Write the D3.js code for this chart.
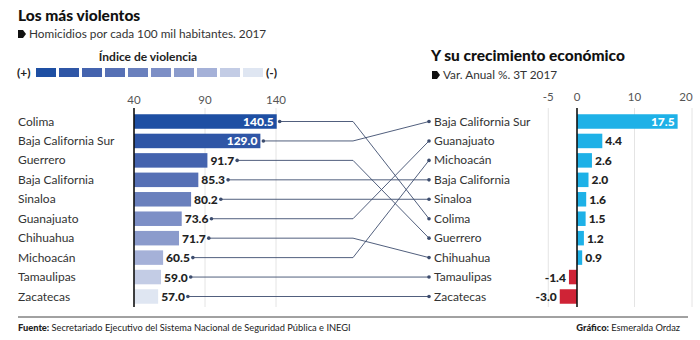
<!DOCTYPE html>
<html>
<head>
<meta charset="utf-8">
<script src="https://cdn.jsdelivr.net/npm/d3@7"></script>
<style>
  body { margin: 0; background: #fff; }
  svg { font-family: Lato, "Open Sans", sans-serif; }
</style>
</head>
<body>
<div id="chart"></div>
<script>
// índice de violencia (homicidios por cada 100 mil hab.)
const violentStates = ["Colima", "Baja California Sur", "Guerrero", "Baja California", "Sinaloa",
  "Guanajuato", "Chihuahua", "Michoacán", "Tamaulipas", "Zacatecas"];
const homicideRate = [140.5, 129.0, 91.7, 85.3, 80.2, 73.6, 71.7, 60.5, 59.0, 57.0];
const rateTicks = [40, 90, 140];

// crecimiento económico, var. anual % 3T 2017
const growthStates = ["Baja California Sur", "Guanajuato", "Michoacán", "Baja California", "Sinaloa",
  "Colima", "Guerrero", "Chihuahua", "Tamaulipas", "Zacatecas"];
const growthValues = [17.5, 4.4, 2.6, 2.0, 1.6, 1.5, 1.2, 0.9, -1.4, -3.0];
const growthTicks = [-5, 0, 10, 20];

const legendColors = ["#1e4fa3", "#2f56a6", "#4463ae", "#5670b5", "#6a80bd",
  "#7d8fc6", "#8b9bcc", "#a5b1d8", "#c3cce5", "#dfe6f2"];

const W = 700, H = 340;
const svg = d3.select("#chart").append("svg")
  .attr("width", W).attr("height", H);

const ink = "#222";
const lineColor = "#3d4d6e";

// encabezados
svg.append("text").attr("x", 18).attr("y", 21)
  .attr("font-size", 15.5).attr("font-weight", 900).attr("fill", "#111")
  .text("Los más violentos");

function tagIcon(x, y) {
  svg.append("path")
    .attr("d", `M${x},${y - 4} h5 l3,4 l-3,4 h-5 z`)
    .attr("fill", "#111");
}
tagIcon(18, 34);
svg.append("text").attr("x", 29).attr("y", 38)
  .attr("font-size", 11.8).attr("fill", "#333")
  .text("Homicidios por cada 100 mil habitantes. 2017");

svg.append("text").attr("x", 148).attr("y", 61)
  .attr("text-anchor", "middle").attr("font-size", 12).attr("font-weight", 700).attr("fill", "#222")
  .text("Índice de violencia");

// leyenda de colores
svg.append("text").attr("x", 17).attr("y", 77)
  .attr("font-size", 12).attr("font-weight", 700).attr("fill", "#222").text("(+)");
svg.selectAll(".swatch").data(legendColors).enter().append("rect")
  .attr("class", "swatch")
  .attr("x", (d, i) => 36 + i * 23).attr("y", 68)
  .attr("width", 20).attr("height", 9)
  .attr("fill", d => d);
svg.append("text").attr("x", 266).attr("y", 77)
  .attr("font-size", 12).attr("font-weight", 700).attr("fill", "#222").text("(-)");

// escalas
const rowY = d3.scalePoint().domain(d3.range(10)).range([121.5, 296.5]);
const barH = 14.5;

const xL = d3.scaleLinear().domain([40, 140]).range([134, 276]);
const xR = d3.scaleLinear().domain([0, 20]).range([577, 692]);

// gráfica izquierda: rejilla y eje
const leftTop = 108, leftBottom = 307;
svg.selectAll(".gridL").data(rateTicks.slice(1)).enter().append("line")
  .attr("x1", d => xL(d)).attr("x2", d => xL(d))
  .attr("y1", leftTop).attr("y2", leftBottom)
  .attr("stroke", "#e4e4e4").attr("stroke-width", 1);
svg.selectAll(".tickL").data(rateTicks).enter().append("text")
  .attr("x", d => xL(d)).attr("y", 104)
  .attr("text-anchor", "middle").attr("font-size", 11.5).attr("fill", "#555")
  .text(d => d);

svg.selectAll(".barL").data(homicideRate).enter().append("rect")
  .attr("x", xL(40)).attr("y", (d, i) => rowY(i) - barH / 2)
  .attr("width", d => xL(d) - xL(40)).attr("height", barH)
  .attr("fill", (d, i) => legendColors[i]);

svg.append("line")
  .attr("x1", xL(40)).attr("x2", xL(40)).attr("y1", leftTop).attr("y2", leftBottom)
  .attr("stroke", "#111").attr("stroke-width", 1.6);

svg.selectAll(".nameL").data(violentStates).enter().append("text")
  .attr("x", 18).attr("y", (d, i) => rowY(i) + 4)
  .attr("font-size", 12).attr("fill", "#333")
  .text(d => d);

// valores y puntos de partida de los conectores
const startX = [];
homicideRate.forEach((v, i) => {
  const inside = v > 120;
  const t = svg.append("text")
    .attr("x", inside ? xL(v) - 3 : xL(v) + 3)
    .attr("y", rowY(i) + 4.5)
    .attr("text-anchor", inside ? "end" : "start")
    .attr("font-size", 12).attr("font-weight", 900)
    .attr("fill", inside ? "#fff" : ink)
    .text(v.toFixed(1));
  startX[i] = inside ? xL(v) + 3 : xL(v) + 3 + t.node().getComputedTextLength() + 3;
});

// conectores entre ambas gráficas
const bendX = 353, endX = 429;
violentStates.forEach((name, i) => {
  const j = growthStates.indexOf(name);
  const y0 = rowY(i), y1 = rowY(j);
  svg.append("path")
    .attr("d", `M${startX[i]},${y0} H${bendX} L${endX},${y1}`)
    .attr("fill", "none").attr("stroke", lineColor).attr("stroke-width", 0.9);
  svg.append("circle").attr("cx", startX[i]).attr("cy", y0).attr("r", 1.8).attr("fill", lineColor);
  svg.append("circle").attr("cx", endX).attr("cy", y1).attr("r", 1.8).attr("fill", lineColor);
});

// gráfica derecha
svg.append("text").attr("x", 431).attr("y", 61)
  .attr("font-size", 15.5).attr("font-weight", 900).attr("fill", "#111")
  .text("Y su crecimiento económico");
tagIcon(432, 75);
svg.append("text").attr("x", 443).attr("y", 79)
  .attr("font-size", 11.8).attr("fill", "#333")
  .text("Var. Anual %. 3T 2017");

const rightTop = 108, rightBottom = 307;
svg.selectAll(".gridR").data(growthTicks.filter(d => d !== 0)).enter().append("line")
  .attr("x1", d => xR(d)).attr("x2", d => xR(d))
  .attr("y1", rightTop).attr("y2", rightBottom)
  .attr("stroke", "#e4e4e4").attr("stroke-width", 1);
svg.selectAll(".tickR").data(growthTicks).enter().append("text")
  .attr("x", d => d === 20 ? xR(d) - 6 : xR(d)).attr("y", 101)
  .attr("text-anchor", "middle").attr("font-size", 11.5).attr("fill", "#555")
  .text(d => d);

svg.selectAll(".nameR").data(growthStates).enter().append("text")
  .attr("x", 434).attr("y", (d, i) => rowY(i) + 4)
  .attr("font-size", 12).attr("fill", "#333")
  .text(d => d);

svg.selectAll(".barR").data(growthValues).enter().append("rect")
  .attr("x", d => xR(Math.min(0, d))).attr("y", (d, i) => rowY(i) - barH / 2)
  .attr("width", d => Math.abs(xR(d) - xR(0))).attr("height", barH)
  .attr("fill", d => d < 0 ? "#cf2336" : "#1eb1e7");

svg.append("line")
  .attr("x1", xR(0)).attr("x2", xR(0)).attr("y1", rightTop).attr("y2", rightBottom)
  .attr("stroke", "#111").attr("stroke-width", 1.6);

growthValues.forEach((v, i) => {
  const inside = v > 10;
  svg.append("text")
    .attr("x", inside ? xR(v) - 3 : (v < 0 ? xR(v) - 3 : xR(v) + 3))
    .attr("y", rowY(i) + 4.5)
    .attr("text-anchor", inside || v < 0 ? "end" : "start")
    .attr("font-size", 12).attr("font-weight", 900)
    .attr("fill", inside ? "#fff" : ink)
    .text(v.toFixed(1));
});

// pie de página
svg.append("line").attr("x1", 18).attr("x2", 688).attr("y1", 317).attr("y2", 317)
  .attr("stroke", "#444").attr("stroke-width", 1);

const src = svg.append("text").attr("x", 18).attr("y", 331)
  .attr("font-size", 9.3).attr("fill", "#222");
src.append("tspan").attr("font-weight", 900).text("Fuente: ");
src.append("tspan").text("Secretariado Ejecutivo del Sistema Nacional de Seguridad Pública e INEGI");

const credit = svg.append("text").attr("x", 680).attr("y", 331)
  .attr("text-anchor", "end").attr("font-size", 9.3).attr("fill", "#222");
credit.append("tspan").attr("font-weight", 900).text("Gráfico: ");
credit.append("tspan").text("Esmeralda Ordaz");
</script>
</body>
</html>
